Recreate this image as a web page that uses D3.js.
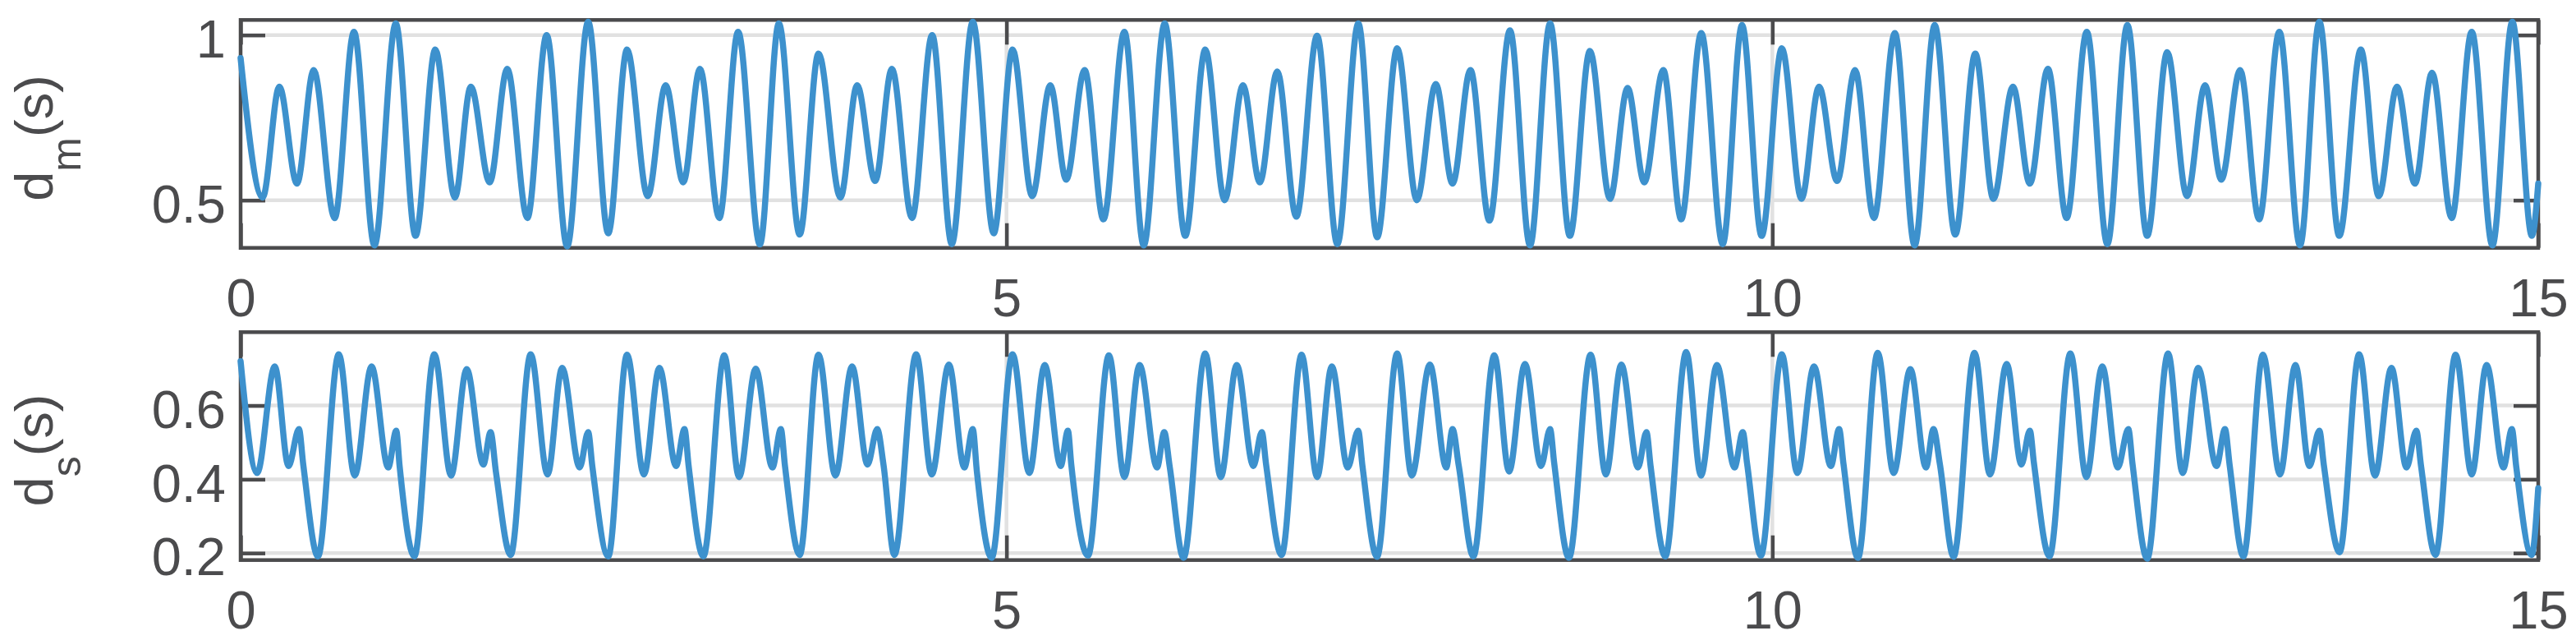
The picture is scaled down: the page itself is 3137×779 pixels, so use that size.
<!DOCTYPE html>
<html lang="en">
<head>
<meta charset="UTF-8"/>
<title>d_m(s) and d_s(s) over time</title>
<script src="https://d3js.org/d3.v7.min.js"></script>
<style>
  body { margin: 0; background: #fff; }
  svg { display: block; font-family: "Liberation Sans", Arial, sans-serif; }
  .grid line { stroke: #e1e1e1; stroke-width: 4.5; }
  .frame { fill: none; stroke: #4b4b4d; stroke-width: 4.5; }
  .ticks line { stroke: #4b4b4d; stroke-width: 4.5; }
  .ticks text { fill: #4b4b4d; font-size: 65px; font-family: "Liberation Sans", Arial, sans-serif; }
  .axis-label { fill: #4b4b4d; font-size: 65px; }
  .trace { fill: none; stroke: #3d91cd; stroke-width: 7.5; stroke-linejoin: round; stroke-linecap: round; }
</style>
</head>
<body>
<svg id="chart" width="3137" height="779"></svg>
<script>
// tick values
const xTicks = [0, 5, 10, 15];
const dmTicks = [0.5, 1];
const dsTicks = [0.2, 0.4, 0.6];

// d_m(s): turning points (time in s, value)
const dmTime = [0, 0.144, 0.253, 0.368, 0.477, 0.614, 0.740, 0.874, 1.013, 1.142,
  1.271, 1.399, 1.503, 1.626, 1.741, 1.872, 1.998, 2.132, 2.269, 2.400,
  2.523, 2.658, 2.775, 2.890, 2.999, 3.125, 3.248, 3.390, 3.514, 3.650,
  3.773, 3.916, 4.025, 4.143, 4.252, 4.383, 4.515, 4.643, 4.780, 4.917,
  5.040, 5.168, 5.286, 5.390, 5.510, 5.633, 5.770, 5.896, 6.033, 6.167,
  6.298, 6.424, 6.544, 6.654, 6.768, 6.892, 7.028, 7.160, 7.297, 7.420,
  7.551, 7.679, 7.803, 7.912, 8.029, 8.153, 8.287, 8.418, 8.549, 8.678,
  8.809, 8.940, 9.055, 9.164, 9.288, 9.405, 9.536, 9.676, 9.802, 9.930,
  10.062, 10.190, 10.305, 10.423, 10.540, 10.663, 10.800, 10.929, 11.060, 11.194,
  11.325, 11.443, 11.571, 11.681, 11.799, 11.921, 12.053, 12.187, 12.318, 12.447,
  12.578, 12.707, 12.825, 12.931, 13.054, 13.178, 13.310, 13.445, 13.571, 13.701,
  13.842, 13.959, 14.078, 14.195, 14.307, 14.435, 14.566, 14.701, 14.831, 14.959, 15.0];
const dmValue = [0.93, 0.508, 0.844, 0.55, 0.894, 0.446, 1.01, 0.363, 1.035, 0.392,
  0.956, 0.508, 0.844, 0.554, 0.898, 0.446, 1.0, 0.36, 1.04, 0.40,
  0.956, 0.512, 0.848, 0.554, 0.898, 0.446, 1.01, 0.366, 1.035, 0.396,
  0.944, 0.508, 0.848, 0.558, 0.898, 0.446, 1.0, 0.367, 1.04, 0.40,
  0.956, 0.512, 0.848, 0.562, 0.894, 0.442, 1.01, 0.363, 1.035, 0.392,
  0.956, 0.50, 0.848, 0.554, 0.89, 0.45, 0.998, 0.367, 1.035, 0.388,
  0.96, 0.50, 0.852, 0.55, 0.894, 0.438, 1.014, 0.363, 1.035, 0.392,
  0.952, 0.504, 0.84, 0.554, 0.894, 0.442, 1.006, 0.367, 1.03, 0.392,
  0.96, 0.504, 0.844, 0.558, 0.894, 0.446, 1.006, 0.363, 1.03, 0.396,
  0.944, 0.504, 0.844, 0.55, 0.898, 0.446, 1.01, 0.367, 1.03, 0.392,
  0.948, 0.512, 0.848, 0.562, 0.894, 0.442, 1.01, 0.363, 1.04, 0.392,
  0.956, 0.512, 0.844, 0.55, 0.886, 0.446, 1.01, 0.363, 1.04, 0.392, 0.55];

// d_s(s): turning points (time in s, value)
const dsTime = [0, 0.108, 0.223, 0.313, 0.381, 0.409,
  0.505, 0.641, 0.745, 0.855, 0.964, 1.016, 1.038,
  1.134, 1.265, 1.374, 1.476, 1.585, 1.632, 1.667,
  1.763, 1.894, 2.004, 2.099, 2.214, 2.269, 2.296,
  2.400, 2.523, 2.633, 2.734, 2.843, 2.898, 2.925,
  3.021, 3.158, 3.254, 3.363, 3.472, 3.527, 3.554,
  3.650, 3.773, 3.883, 3.992, 4.093, 4.156, 4.197,
  4.268, 4.411, 4.512, 4.624, 4.725, 4.780, 4.807,
  4.903, 5.040, 5.149, 5.250, 5.354, 5.401, 5.423,
  5.532, 5.669, 5.770, 5.869, 5.983, 6.030, 6.065,
  6.156, 6.298, 6.399, 6.503, 6.612, 6.667, 6.695,
  6.796, 6.927, 7.028, 7.124, 7.228, 7.296, 7.324,
  7.419, 7.551, 7.646, 7.764, 7.871, 7.912, 7.953,
  8.048, 8.185, 8.281, 8.385, 8.490, 8.549, 8.576,
  8.672, 8.814, 8.913, 9.014, 9.123, 9.178, 9.205,
  9.301, 9.438, 9.534, 9.638, 9.753, 9.807, 9.835,
  9.925, 10.062, 10.163, 10.272, 10.382, 10.436, 10.464,
  10.559, 10.688, 10.792, 10.901, 11.003, 11.052, 11.093,
  11.183, 11.320, 11.421, 11.530, 11.626, 11.681, 11.708,
  11.809, 11.946, 12.050, 12.154, 12.255, 12.324, 12.351,
  12.447, 12.584, 12.679, 12.780, 12.900, 12.955, 12.985,
  13.075, 13.203, 13.314, 13.415, 13.506, 13.571, 13.600,
  13.703, 13.831, 13.934, 14.042, 14.140, 14.204, 14.235,
  14.329, 14.461, 14.566, 14.663, 14.773, 14.828, 14.856,
  14.957, 15.0];
const dsValue = [0.72, 0.417, 0.706, 0.436, 0.536, 0.44,
  0.191, 0.739, 0.41, 0.706, 0.432, 0.532, 0.436,
  0.191, 0.739, 0.41, 0.699, 0.44, 0.528, 0.42,
  0.195, 0.739, 0.413, 0.702, 0.432, 0.528, 0.436,
  0.191, 0.738, 0.413, 0.702, 0.436, 0.536, 0.436,
  0.191, 0.736, 0.406, 0.70, 0.432, 0.536, 0.436,
  0.195, 0.738, 0.41, 0.706, 0.44, 0.536, 0.44,
  0.195, 0.739, 0.413, 0.711, 0.432, 0.536, 0.42,
  0.187, 0.739, 0.417, 0.71, 0.436, 0.532, 0.44,
  0.193, 0.736, 0.406, 0.71, 0.432, 0.528, 0.436,
  0.187, 0.741, 0.406, 0.71, 0.436, 0.528, 0.44,
  0.195, 0.738, 0.406, 0.706, 0.432, 0.532, 0.436,
  0.19, 0.741, 0.41, 0.711, 0.432, 0.536, 0.436,
  0.191, 0.736, 0.421, 0.713, 0.436, 0.536, 0.443,
  0.187, 0.738, 0.413, 0.711, 0.432, 0.528, 0.436,
  0.191, 0.745, 0.41, 0.71, 0.432, 0.528, 0.443,
  0.193, 0.739, 0.417, 0.706, 0.436, 0.536, 0.443,
  0.187, 0.743, 0.417, 0.699, 0.432, 0.536, 0.443,
  0.19, 0.743, 0.413, 0.713, 0.44, 0.532, 0.443,
  0.191, 0.741, 0.406, 0.706, 0.432, 0.536, 0.443,
  0.185, 0.741, 0.417, 0.702, 0.436, 0.536, 0.44,
  0.191, 0.738, 0.413, 0.71, 0.436, 0.532, 0.44,
  0.202, 0.739, 0.41, 0.702, 0.432, 0.532, 0.436,
  0.195, 0.738, 0.413, 0.71, 0.432, 0.536, 0.436,
  0.195, 0.376];

const svg = d3.select('#chart');
const left = 293, right = 3091, tickLen = 30;

const x = d3.scaleLinear().domain([0, 15]).range([left, right]);

function panel(top, bottom, yDomain, yTicks, time, value, label, sub, labelY) {
  const y = d3.scaleLinear().domain(yDomain).range([bottom, top]);
  const g = svg.append('g');

  // gridlines
  g.append('g').attr('class', 'grid')
    .selectAll('line').data(yTicks).join('line')
    .attr('x1', left).attr('x2', right)
    .attr('y1', d => y(d)).attr('y2', d => y(d));
  g.append('g').attr('class', 'grid')
    .selectAll('line').data(xTicks.slice(1, -1)).join('line')
    .attr('x1', d => x(d)).attr('x2', d => x(d))
    .attr('y1', top).attr('y2', bottom);

  // box
  g.append('rect').attr('class', 'frame')
    .attr('x', left).attr('y', top)
    .attr('width', right - left).attr('height', bottom - top);

  // ticks, pointing inwards on all four sides
  const noDomain = s => s.select('.domain').remove();
  g.append('g').attr('class', 'ticks')
    .attr('transform', `translate(0,${bottom})`)
    .call(d3.axisBottom(x).tickValues(xTicks).tickSize(-tickLen).tickPadding(37).tickFormat(d3.format('d')))
    .call(noDomain)
    .call(s => s.selectAll('text').attr('dy', '0.71em'));
  g.append('g').attr('class', 'ticks')
    .attr('transform', `translate(0,${top})`)
    .call(d3.axisTop(x).tickValues(xTicks).tickSize(-tickLen).tickFormat(''))
    .call(noDomain);
  g.append('g').attr('class', 'ticks')
    .attr('transform', `translate(${left},0)`)
    .call(d3.axisLeft(y).tickValues(yTicks).tickSize(-tickLen).tickPadding(18).tickFormat(d3.format('~g')))
    .call(noDomain)
    .call(s => s.selectAll('text').attr('dy', '0.41em'));
  g.append('g').attr('class', 'ticks')
    .attr('transform', `translate(${right},0)`)
    .call(d3.axisRight(y).tickValues(yTicks).tickSize(-tickLen).tickFormat(''))
    .call(noDomain);

  // signal
  const line = d3.line()
    .x((d, i) => x(time[i]))
    .y(d => y(d))
    .curve(d3.curveMonotoneX);
  g.append('path').attr('class', 'trace').attr('d', line(value));

  // rotated y label with subscript
  const lab = g.append('text').attr('class', 'axis-label')
    .attr('text-anchor', 'middle')
    .attr('transform', `translate(64,${labelY}) rotate(-90)`);
  lab.append('tspan').text(label);
  lab.append('tspan').attr('dy', 34).attr('font-size', 50).text(sub);
  lab.append('tspan').attr('dy', -34).text('(s)');
}

panel(24.3, 301.7, [0.3557, 1.0457], dmTicks, dmTime, dmValue, 'd', 'm', 168);
panel(404.3, 681.7, [0.181, 0.799], dsTicks, dsTime, dsValue, 'd', 's', 548);
</script>
</body>
</html>
